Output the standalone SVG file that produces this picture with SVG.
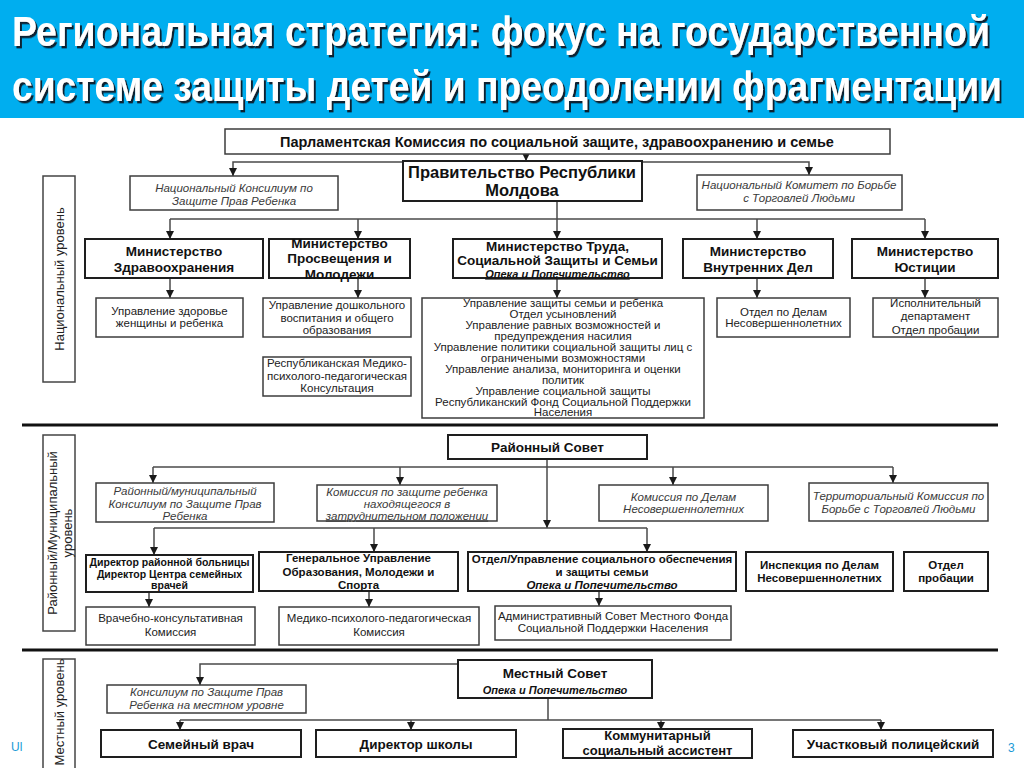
<svg xmlns="http://www.w3.org/2000/svg" width="1024" height="768" viewBox="0 0 1024 768">
<defs>
<marker id="ar" markerUnits="userSpaceOnUse" markerWidth="8" markerHeight="8" refX="8" refY="4" orient="auto">
<path d="M0,0 L8,4 L0,8 Z" fill="#1a1a1a"/>
</marker>
<filter id="sh" x="-5%" y="-30%" width="110%" height="160%">
<feDropShadow dx="2" dy="2" stdDeviation="0.6" flood-color="#0a2030" flood-opacity="1"/>
</filter>
<style>
.b{fill:#fff;stroke:#3c3c3c;stroke-width:1.5}
.bk{fill:#fff;stroke:#1e1e1e;stroke-width:2}
.lb{fill:#fff;stroke:#444;stroke-width:1.5}
.c{fill:none;stroke:#4a4a4a;stroke-width:1.5}
.ca{fill:none;stroke:#4a4a4a;stroke-width:1.5;marker-end:url(#ar)}
.sep{stroke:#111;stroke-width:3}
text{font-family:"Liberation Sans",Arial,sans-serif;fill:#222;text-anchor:middle}
.tb{font-weight:bold;fill:#111}
.ti{font-style:italic;fill:#3a3a3a}
.tbi{font-style:italic;font-weight:bold;fill:#111}
.s{font-size:11.5px}
.m{font-size:13.5px}
.ttl{font-family:"Liberation Sans Narrow","Arial Narrow","Liberation Sans",sans-serif;font-weight:bold;font-size:36px;text-anchor:start;fill:#fff;filter:url(#sh)}
</style>
</defs>
<rect x="0" y="0" width="1024" height="768" fill="#fff"/>
<g id="title">
<rect x="0" y="0" width="1024" height="118" fill="#00AEEF"/>
<text class="ttl" transform="translate(12,46) scale(1,1.18)" x="0" y="0" textLength="978" lengthAdjust="spacingAndGlyphs">Региональная стратегия: фокус на государственной</text>
<text class="ttl" transform="translate(12,101) scale(1,1.18)" x="0" y="0" textLength="990" lengthAdjust="spacingAndGlyphs">системе защиты детей и преодолении фрагментации</text>
</g>
<g id="separators">
<line class="sep" x1="22" y1="425" x2="998" y2="425"/>
<line class="sep" x1="22" y1="650" x2="998" y2="650"/>
</g>
<g id="level-national">
<rect class="lb" x="43" y="176" width="32" height="206"/>
<text transform="translate(59,279) rotate(-90)" x="0" y="4.5" style="font-size:13px">Национальный уровень</text>
</g>
<g id="level-district">
<rect class="lb" x="43" y="435" width="32" height="196"/>
<text transform="translate(0,533) rotate(-90)" x="0" y="57" style="font-size:13px">Районный/Муниципальный</text>
<text transform="translate(0,533) rotate(-90)" x="0" y="72" style="font-size:13px">уровень</text>
</g>
<g id="level-local">
<rect class="lb" x="43" y="659" width="32" height="112"/>
<text transform="translate(59,712) rotate(-90)" x="0" y="4.5" style="font-size:13px">Местный уровень</text>
</g>
<g id="connectors">
<path class="ca" d="M526,153 V161"/>
<path class="ca" d="M403,162 H233 V176"/>
<path class="ca" d="M642,162 H809 V175"/>
<path class="ca" d="M557,201 V239"/>
<path class="c" d="M170,219 H925"/>
<path class="ca" d="M170,219 V239"/>
<path class="ca" d="M358,219 V239"/>
<path class="ca" d="M757,219 V239"/>
<path class="ca" d="M925,219 V239"/>
<path class="ca" d="M170,278 V298"/>
<path class="ca" d="M358,278 V298"/>
<path class="ca" d="M557,278 V298"/>
<path class="ca" d="M757,278 V298"/>
<path class="ca" d="M925,278 V298"/>
<path class="ca" d="M547,459 V528"/>
<path class="c" d="M153,467 H893"/>
<path class="ca" d="M153,467 V483"/>
<path class="ca" d="M400,467 V485"/>
<path class="ca" d="M673,467 V485"/>
<path class="ca" d="M893,467 V483"/>
<path class="c" d="M154,528 H647"/>
<path class="ca" d="M154,528 V555"/>
<path class="ca" d="M374,528 V552"/>
<path class="ca" d="M647,528 V552"/>
<path class="ca" d="M149,592 V607"/>
<path class="ca" d="M369,591 V607"/>
<path class="ca" d="M599,591 V606"/>
<path class="ca" d="M458,664 H200 V685"/>
<path class="c" d="M548,698 V720 M180,720 H881"/>
<path class="ca" d="M180,720 V730"/>
<path class="ca" d="M411,720 V730"/>
<path class="ca" d="M661,720 V730"/>
<path class="ca" d="M881,720 V730"/>
</g>
<g id="parliament">
<rect class="b" x="225" y="129" width="665" height="25"/>
<text class="tb" x="557" y="146.5" style="font-size:14.5px">Парламентская Комиссия по социальной защите, здравоохранению и семье</text>
</g>
<g id="government">
<rect class="bk" x="403" y="161" width="239" height="40"/>
<text class="tb" x="522" y="177.5" style="font-size:16.5px">Правительство Республики</text>
<text class="tb" x="522" y="195.5" style="font-size:16.5px">Молдова</text>
</g>
<g id="nat-consilium">
<rect class="b" x="130" y="176" width="208" height="34"/>
<text class="ti s" x="234" y="191.5">Национальный Консилиум по</text>
<text class="ti s" x="234" y="204.5">Защите Прав Ребенка</text>
</g>
<g id="nat-committee">
<rect class="b" x="697" y="175" width="205" height="35"/>
<text class="ti s" x="799" y="189">Национальный Комитет по Борьбе</text>
<text class="ti s" x="799" y="201.5">с Торговлей Людьми</text>
</g>
<g id="min-health">
<rect class="bk" x="85" y="239" width="178" height="39"/>
<text class="tb m" x="174" y="256">Министерство</text>
<text class="tb m" x="174" y="272">Здравоохранения</text>
</g>
<g id="min-education">
<rect class="bk" x="269" y="239" width="141" height="39"/>
<text class="tb m" x="339.5" y="248">Министерство</text>
<text class="tb m" x="339.5" y="263">Просвещения и</text>
<text class="tb m" x="339.5" y="279">Молодежи</text>
</g>
<g id="min-labour">
<rect class="bk" x="453" y="239" width="209" height="39"/>
<text class="tb m" x="557.5" y="251">Министерство Труда,</text>
<text class="tb m" x="557.5" y="265">Социальной Защиты и Семьи</text>
<text class="tbi" x="557.5" y="277.5" style="font-size:11px;text-decoration:underline">Опека и Попечительство</text>
</g>
<g id="min-internal">
<rect class="bk" x="683" y="239" width="150" height="39"/>
<text class="tb m" x="758" y="256">Министерство</text>
<text class="tb m" x="758" y="272">Внутренних Дел</text>
</g>
<g id="min-justice">
<rect class="bk" x="852" y="239" width="146" height="39"/>
<text class="tb m" x="925" y="256">Министерство</text>
<text class="tb m" x="925" y="272">Юстиции</text>
</g>
<g id="health-sub">
<rect class="b" x="96" y="298" width="147" height="39"/>
<text class="s" x="169.5" y="315">Управление здоровье</text>
<text class="s" x="169.5" y="327">женщины и ребенка</text>
</g>
<g id="edu-sub">
<rect class="b" x="263" y="298" width="148" height="39"/>
<text class="s" x="337" y="309">Управление дошкольного</text>
<text class="s" x="337" y="322">воспитания и общего</text>
<text class="s" x="337" y="334">образования</text>
</g>
<g id="rep-mppc">
<rect class="b" x="263" y="357" width="148" height="39"/>
<text class="s" x="337" y="367">Республиканская Медико-</text>
<text class="s" x="337" y="380">психолого-педагогическая</text>
<text class="s" x="337" y="392">Консультация</text>
</g>
<g id="labour-sub">
<rect class="b" x="422" y="298" width="282" height="120"/>
<text class="s" x="563" y="307">Управление защиты семьи и ребенка</text>
<text class="s" x="563" y="318">Отдел усыновлений</text>
<text class="s" x="563" y="329">Управление равных возможностей и</text>
<text class="s" x="563" y="340">предупреждения насилия</text>
<text class="s" x="563" y="351">Управление политики социальной защиты лиц с</text>
<text class="s" x="563" y="361.5">ограничеными возможностями</text>
<text class="s" x="563" y="372.5">Управление анализа, мониторинга и оценки</text>
<text class="s" x="563" y="383.5">политик</text>
<text class="s" x="563" y="394.5">Управление социальной защиты</text>
<text class="s" x="563" y="405.5">Республиканский Фонд Социальной Поддержки</text>
<text class="s" x="563" y="416">Населения</text>
</g>
<g id="internal-sub">
<rect class="b" x="717" y="298" width="133" height="39"/>
<text class="s" x="783.5" y="316">Отдел по Делам</text>
<text class="s" x="783.5" y="327">Несовершеннолетних</text>
</g>
<g id="justice-sub">
<rect class="b" x="873" y="298" width="125" height="39"/>
<text class="s" x="935.5" y="307">Исполнительный</text>
<text class="s" x="935.5" y="320">департамент</text>
<text class="s" x="935.5" y="334">Отдел пробации</text>
</g>
<g id="district-council">
<rect class="bk" x="448" y="435" width="199" height="24"/>
<text class="tb m" x="547.5" y="452">Районный Совет</text>
</g>
<g id="district-consilium">
<rect class="b" x="96" y="483" width="178" height="39"/>
<text class="ti s" x="185" y="495">Районный/муниципальный</text>
<text class="ti s" x="185" y="508">Консилиум по Защите Прав</text>
<text class="ti s" x="185" y="520">Ребенка</text>
</g>
<g id="commission-child">
<rect class="b" x="317" y="485" width="180" height="36"/>
<text class="ti s" x="407" y="496">Комиссия по защите ребенка</text>
<text class="ti s" x="407" y="507.5">находящегося в</text>
<text class="ti s" x="407" y="519.5" style="text-decoration:underline">затруднительном положении</text>
</g>
<g id="commission-juvenile">
<rect class="b" x="599" y="485" width="169" height="36"/>
<text class="ti s" x="683.5" y="501">Комиссия по Делам</text>
<text class="ti s" x="683.5" y="513">Несовершеннолетних</text>
</g>
<g id="territorial-commission">
<rect class="b" x="809" y="483" width="179" height="38"/>
<text class="ti s" x="898.5" y="500">Территориальный Комиссия по</text>
<text class="ti s" x="898.5" y="513">Борьбе с Торговлей Людьми</text>
</g>
<g id="director-hospital">
<rect class="bk" x="86" y="555" width="167" height="37"/>
<text class="tb" x="169.5" y="566" style="font-size:10.5px">Директор районной больницы</text>
<text class="tb" x="169.5" y="577.5" style="font-size:10.5px">Директор Центра семейных</text>
<text class="tb" x="169.5" y="589" style="font-size:10.5px">врачей</text>
</g>
<g id="general-dept">
<rect class="bk" x="259" y="552" width="199" height="39"/>
<text class="tb s" x="358.5" y="562">Генеральное Управление</text>
<text class="tb s" x="358.5" y="576">Образования, Молодежи и</text>
<text class="tb s" x="358.5" y="589">Спорта</text>
</g>
<g id="social-dept">
<rect class="bk" x="468" y="552" width="268" height="39"/>
<text class="tb s" x="602" y="563">Отдел/Управление социального обеспечения</text>
<text class="tb s" x="602" y="576">и защиты семьи</text>
<text class="tbi s" x="602" y="589">Опека и Попечительство</text>
</g>
<g id="inspection">
<rect class="bk" x="746" y="552" width="147" height="39"/>
<text class="tb s" x="819.5" y="569">Инспекция по Делам</text>
<text class="tb s" x="819.5" y="582">Несовершеннолетних</text>
</g>
<g id="probation">
<rect class="bk" x="904" y="552" width="84" height="39"/>
<text class="tb s" x="946" y="569">Отдел</text>
<text class="tb s" x="946" y="582">пробации</text>
</g>
<g id="medical-commission">
<rect class="b" x="86" y="607" width="169" height="38"/>
<text class="s" x="170.5" y="622">Врачебно-консультативная</text>
<text class="s" x="170.5" y="636">Комиссия</text>
</g>
<g id="mpp-commission">
<rect class="b" x="279" y="607" width="200" height="38"/>
<text class="s" x="379" y="622">Медико-психолого-педагогическая</text>
<text class="s" x="379" y="636">Комиссия</text>
</g>
<g id="admin-council">
<rect class="b" x="495" y="606" width="236" height="34"/>
<text class="s" x="613" y="620">Административный Совет Местного Фонда</text>
<text class="s" x="613" y="632">Социальной Поддержки Населения</text>
</g>
<g id="local-council">
<rect class="bk" x="458" y="660" width="194" height="38"/>
<text class="tb m" x="555" y="678">Местный Совет</text>
<text class="tbi" x="555" y="694" style="font-size:11px">Опека и Попечительство</text>
</g>
<g id="local-consilium">
<rect class="b" x="107" y="685" width="199" height="28"/>
<text class="ti s" x="206.5" y="696">Консилиум по Защите Прав</text>
<text class="ti s" x="206.5" y="709">Ребенка на местном уровне</text>
</g>
<g id="family-doctor">
<rect class="bk" x="101" y="730" width="200" height="27"/>
<text class="tb m" x="201" y="748.5">Семейный врач</text>
</g>
<g id="school-director">
<rect class="bk" x="316" y="730" width="200" height="27"/>
<text class="tb m" x="416" y="748.5">Директор школы</text>
</g>
<g id="social-assistant">
<rect class="bk" x="563" y="729" width="189" height="29"/>
<text class="tb" x="657.5" y="740" style="font-size:13px">Коммунитарный</text>
<text class="tb" x="657.5" y="755" style="font-size:13px">социальный ассистент</text>
</g>
<g id="police-officer">
<rect class="bk" x="793" y="730" width="200" height="27"/>
<text class="tb m" x="893" y="748.5">Участковый полицейский</text>
</g>
<g id="footer">
<text x="11" y="751" style="font-size:12px;fill:#1a9ad6;text-anchor:start">Ul</text>
<text x="1008" y="752" style="font-size:12px;fill:#1a9ad6;text-anchor:start">3</text>
</g>
</svg>
